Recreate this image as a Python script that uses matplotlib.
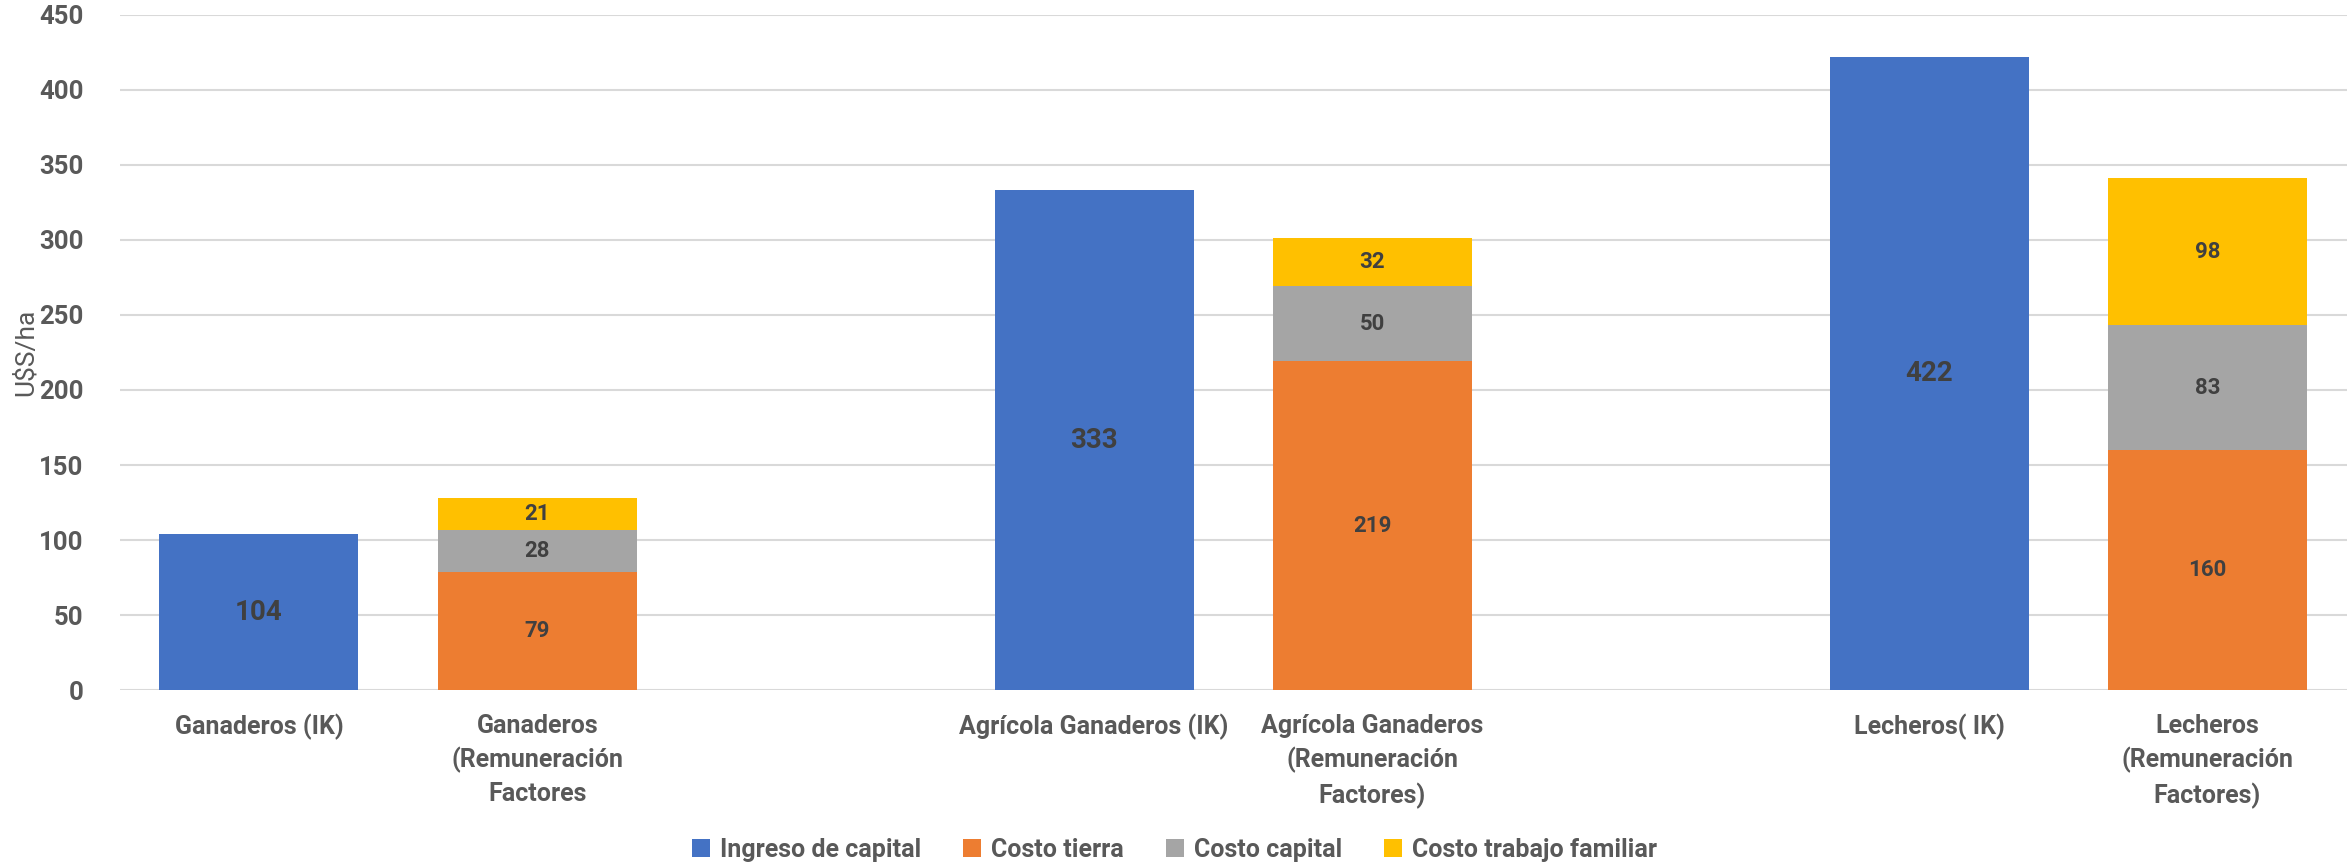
import matplotlib
matplotlib.use("Agg")
import matplotlib.pyplot as plt
import numpy as np

plt.rcParams["font.family"] = ["Roboto", "DejaVu Sans"]

categories = [
    "Ganaderos (IK)",
    "Ganaderos\n(Remuneración\nFactores",
    "Agrícola Ganaderos (IK)",
    "Agrícola Ganaderos\n(Remuneración\nFactores)",
    "Lecheros( IK)",
    "Lecheros\n(Remuneración\nFactores)",
]
# slot positions (Excel chart leaves an empty slot between groups)
slots = [0, 1, 3, 4, 6, 7]

ingreso_capital = [104, 0, 333, 0, 422, 0]
costo_tierra = [0, 79, 0, 219, 0, 160]
costo_capital = [0, 28, 0, 50, 0, 83]
costo_trabajo = [0, 21, 0, 32, 0, 98]

series = [
    ("Ingreso de capital", ingreso_capital, "#4472C4"),
    ("Costo tierra", costo_tierra, "#ED7D31"),
    ("Costo capital", costo_capital, "#A5A5A5"),
    ("Costo trabajo familiar", costo_trabajo, "#FFC000"),
]

text_col = "#595959"
label_col = "#404040"

fig = plt.figure(figsize=(23.49, 8.67), dpi=100)
ax = fig.add_axes([0.051, 0.204, 0.948, 0.779])

x = np.array(slots, dtype=float)
bottom = np.zeros(len(x))
width = 0.715
for name, vals, col in series:
    vals = np.array(vals, dtype=float)
    ax.bar(x, vals, width, bottom=bottom, color=col, label=name, zorder=3)
    for xi, b, v in zip(x, bottom, vals):
        if v <= 0:
            continue
        big = name == "Ingreso de capital"
        ax.text(xi, b + v / 2, f"{v:.0f}", ha="center", va="center",
                fontsize=20 if big else 16, fontweight="bold", color=label_col,
                zorder=4)
    bottom += vals

ax.set_xlim(-0.5, 7.5)
ax.set_ylim(0, 450)
ax.set_yticks(np.arange(0, 451, 50))
ax.set_xticks(x)
ax.set_xticklabels(categories, fontsize=18, fontweight="bold", color=text_col,
                   linespacing=1.45)
ax.tick_params(axis="x", length=0, pad=17)
ax.tick_params(axis="y", length=0, pad=26, labelsize=18.5, labelcolor=text_col)
for lbl in ax.get_yticklabels():
    lbl.set_fontweight("bold")

ax.grid(axis="y", color="#D9D9D9", linewidth=1.5, zorder=0)
for s in ax.spines.values():
    s.set_visible(False)

ax.set_ylabel("U$S/ha", fontsize=19, color=text_col)
ax.yaxis.set_label_coords(-0.037, 0.5)

handles, labels = ax.get_legend_handles_labels()
leg = fig.legend(handles, labels, loc="center", bbox_to_anchor=(0.5, 0.02),
                 ncol=4, frameon=False, handlelength=0.7, handleheight=0.7,
                 handletextpad=0.4, columnspacing=1.7,
                 prop={"weight": "bold", "size": 18})
for t in leg.get_texts():
    t.set_color(text_col)

fig.savefig("out.png", dpi=100)
